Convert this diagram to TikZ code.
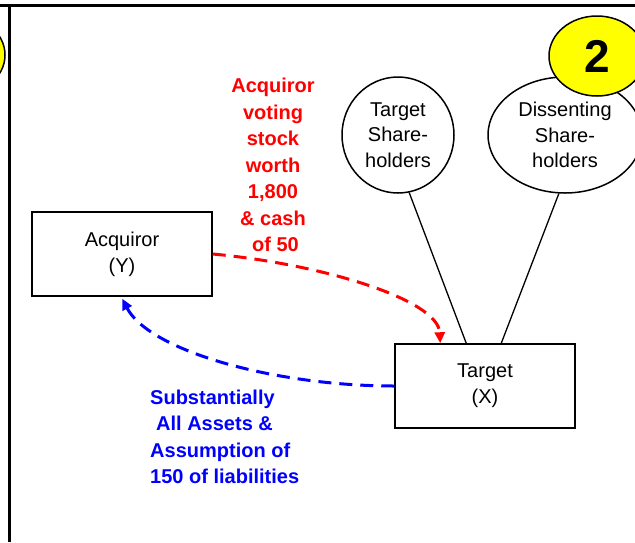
\documentclass[tikz,border=0pt]{standalone}
\usepackage{fontspec}
\setmainfont{Liberation Sans}
\usetikzlibrary{arrows.meta,calc,shapes.geometric}
\definecolor{badgeyellow}{RGB}{255,255,0}
\begin{document}
\begin{tikzpicture}[x=1pt,y=-1pt,
  box/.style={draw,line width=1.5pt,minimum width=180pt,minimum height=84pt,inner sep=0pt,align=center,font=\fontsize{20}{26}\selectfont},
  shell/.style={ellipse,draw,line width=1.5pt,inner sep=0pt,align=center,fill=white,font=\fontsize{20}{25.5}\selectfont},
  badge/.style={ellipse,draw,line width=1.5pt,fill=badgeyellow,minimum width=96pt,minimum height=80pt,inner sep=0pt,font=\bfseries\fontsize{46}{46}\selectfont},
  tie/.style={line width=1.3pt},
  flow/.style={line width=3pt,dash pattern=on 13pt off 8pt,-{Triangle[length=11pt,width=10pt]}},
  note/.style={inner sep=0pt,font=\bfseries\fontsize{20}{26.5}\selectfont}]
\useasboundingbox (0,0) rectangle (635,542);
\clip (0,0) rectangle (635,542);
% frame lines
\draw[line width=3pt] (0,5) -- (635,5);
\draw[line width=3pt] (9,5) -- (9,542);
% badges
\node[badge] (leftbadge) at (-43,55) {};
% boxes
\node[box] (acq) at (122,254) {Acquiror\\(Y)};
\node[box] (tx) at (485,386) {Target\\(X)};
% shareholder ellipses
\node[shell,minimum width=112pt,minimum height=116pt] (ts) at (398,135) {Target\\Share-\\holders};
\node[shell,minimum width=154pt,minimum height=116pt] (ds) at (565,135) {Dissenting\\Share-\\holders};
\node[badge] (two) at (597,56) {2};
% ties
\draw[tie] (ts.-79) -- ($(tx.north west)+(72,0)$);
\draw[tie] (ds.-96) -- ($(tx.north west)+(107,0)$);
% flows
\coordinate (rin) at ($(tx.north west)+(46,0)$);
\coordinate (bin) at ($(acq.south west)+(91,2)$);
\draw[flow,red] (acq.east) .. controls ($(acq.east)+(108,10)$) and ($(rin)+(-2,-44)$) .. (rin);
\draw[flow,blue] (tx.west) .. controls ($(tx.west)+(-120,0)$) and ($(bin)+(27,52)$) .. (bin);
% notes
\node[note,text=red,align=center] (give) at (273,165) {Acquiror\\voting\\stock\\worth\\1,800\\\& cash\\\hspace*{5pt}of 50};
\node[note,text=blue,align=left,anchor=west] (get) at (150,437) {Substantially\\\hspace*{6pt}All Assets \&\\Assumption of\\150 of liabilities};
\end{tikzpicture}
\end{document}
